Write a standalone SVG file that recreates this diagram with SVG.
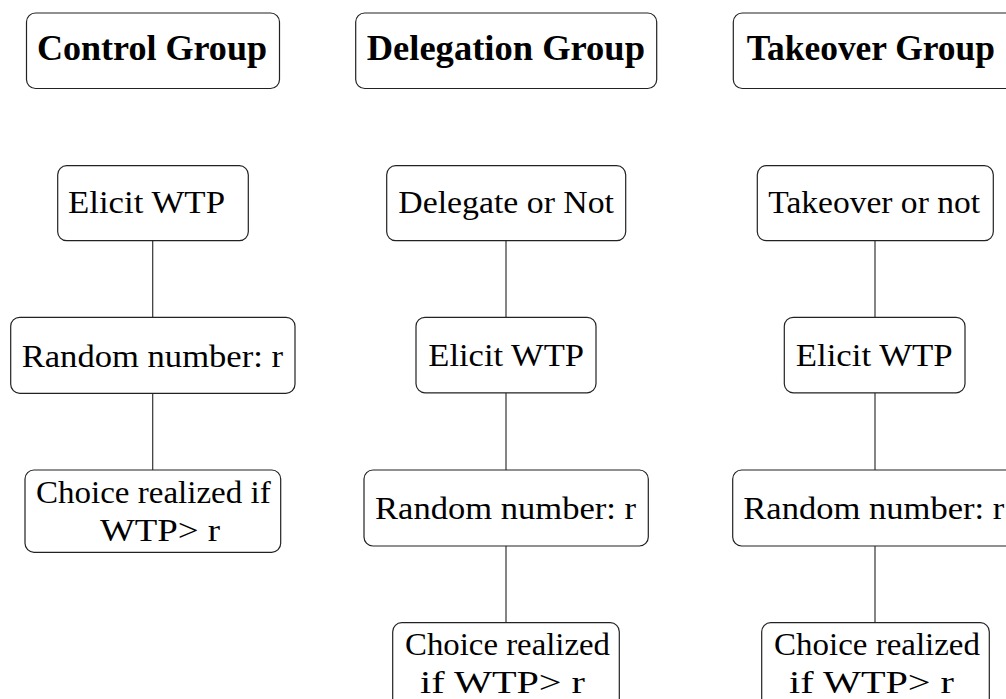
<svg xmlns="http://www.w3.org/2000/svg" width="1006" height="699" viewBox="0 0 1006 699">
<style>
.box{fill:#fff;stroke:#222;stroke-width:1.2}
.t{font-family:"Liberation Serif","Times New Roman",serif;font-size:31px;fill:#000}
.h{font-family:"Liberation Serif","Times New Roman",serif;font-size:35px;font-weight:bold;fill:#000}
.c{stroke:#333;stroke-width:1.2;fill:none}
</style>
<rect width="1006" height="699" fill="#fff"/>
<g id="connectors">
<line class="c" x1="152.7" y1="240.7" x2="152.7" y2="317.3"/>
<line class="c" x1="152.7" y1="393.3" x2="152.7" y2="470"/>
<line class="c" x1="506" y1="240.7" x2="506" y2="317.3"/>
<line class="c" x1="506" y1="393" x2="506" y2="470"/>
<line class="c" x1="506" y1="546" x2="506" y2="622.7"/>
<line class="c" x1="875" y1="240.7" x2="875" y2="317.3"/>
<line class="c" x1="875" y1="393" x2="875" y2="470"/>
<line class="c" x1="875" y1="546" x2="875" y2="622.7"/>
</g>
<g id="control-group">
<rect class="box" x="26.5" y="13" width="253" height="75.5" rx="9"/>
<text class="h" x="37" y="60" textLength="230" lengthAdjust="spacingAndGlyphs">Control Group</text>
</g>
<g id="delegation-group">
<rect class="box" x="355.7" y="13" width="301" height="75.5" rx="9"/>
<text class="h" x="366.7" y="60" textLength="278.3" lengthAdjust="spacingAndGlyphs">Delegation Group</text>
</g>
<g id="takeover-group">
<rect class="box" x="733.3" y="13" width="285" height="75.5" rx="9"/>
<text class="h" x="746.7" y="60" textLength="248.3" lengthAdjust="spacingAndGlyphs">Takeover Group</text>
</g>
<g id="c-elicit">
<rect class="box" x="57.7" y="165.7" width="190.6" height="75" rx="9"/>
<text class="t" x="68" y="213" textLength="157" lengthAdjust="spacingAndGlyphs">Elicit WTP</text>
</g>
<g id="c-random">
<rect class="box" x="10.7" y="317.3" width="284.3" height="76" rx="9"/>
<text class="t" x="21.7" y="366.7" textLength="261.3" lengthAdjust="spacingAndGlyphs">Random number: r</text>
</g>
<g id="c-choice">
<rect class="box" x="25" y="470" width="255.7" height="82.3" rx="9"/>
<text class="t" x="36" y="502.7" textLength="234.7" lengthAdjust="spacingAndGlyphs">Choice realized if</text>
<text class="t" x="100" y="540.7" textLength="120" lengthAdjust="spacingAndGlyphs">WTP&gt; r</text>
</g>
<g id="d-delegate">
<rect class="box" x="386.7" y="165.7" width="239" height="75" rx="9"/>
<text class="t" x="398.3" y="213" textLength="215.7" lengthAdjust="spacingAndGlyphs">Delegate or Not</text>
</g>
<g id="d-elicit">
<rect class="box" x="416" y="317.3" width="180" height="75.5" rx="9"/>
<text class="t" x="428.3" y="366.3" textLength="155.7" lengthAdjust="spacingAndGlyphs">Elicit WTP</text>
</g>
<g id="d-random">
<rect class="box" x="364" y="470" width="284.3" height="76" rx="9"/>
<text class="t" x="375" y="519.3" textLength="261" lengthAdjust="spacingAndGlyphs">Random number: r</text>
</g>
<g id="d-choice">
<rect class="box" x="392.7" y="622.7" width="226.6" height="85" rx="9"/>
<text class="t" x="405" y="655" textLength="205" lengthAdjust="spacingAndGlyphs">Choice realized</text>
<text class="t" x="420" y="692.7" textLength="165" lengthAdjust="spacingAndGlyphs">if WTP&gt; r</text>
</g>
<g id="t-takeover">
<rect class="box" x="757.3" y="165.7" width="236" height="75" rx="9"/>
<text class="t" x="768.3" y="213" textLength="211.7" lengthAdjust="spacingAndGlyphs">Takeover or not</text>
</g>
<g id="t-elicit">
<rect class="box" x="784.3" y="317.3" width="180.7" height="75.5" rx="9"/>
<text class="t" x="795.7" y="366.3" textLength="157" lengthAdjust="spacingAndGlyphs">Elicit WTP</text>
</g>
<g id="t-random">
<rect class="box" x="732.7" y="470" width="284.3" height="76" rx="9"/>
<text class="t" x="743.3" y="519.3" textLength="261" lengthAdjust="spacingAndGlyphs">Random number: r</text>
</g>
<g id="t-choice">
<rect class="box" x="761.7" y="622.7" width="227.6" height="85" rx="9"/>
<text class="t" x="774" y="655" textLength="206" lengthAdjust="spacingAndGlyphs">Choice realized</text>
<text class="t" x="789" y="692.7" textLength="165" lengthAdjust="spacingAndGlyphs">if WTP&gt; r</text>
</g>
</svg>
